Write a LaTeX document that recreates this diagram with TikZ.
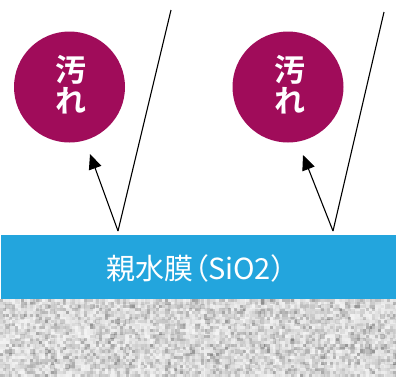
\documentclass[tikz,border=0pt]{standalone}
\usepackage{fontspec}
\newfontfamily\jp{Noto Sans CJK JP}[RawFeature=+palt]
\newfontfamily\jpb{Noto Sans CJK JP Bold}
\usetikzlibrary{arrows.meta}
\definecolor{dirt}{RGB}{160,12,90}
\definecolor{film}{RGB}{35,165,221}
\tikzset{
  dirtball/.style={circle, fill=dirt, draw=none, minimum size=111pt, inner sep=0pt},
  dirtlabel/.style={text=white, font=\jpb\fontsize{31pt}{31.5pt}\selectfont, align=center, inner sep=0pt},
  ray/.style={line width=1.1pt, black},
  reflect/.style={line width=1.1pt, black, -{Triangle[length=15pt,width=13pt]}},
  filmlabel/.style={text=white, font=\jp\fontsize{29pt}{30pt}\selectfont, inner sep=0pt, anchor=west}
}
\begin{document}
\begin{tikzpicture}[x=1pt,y=-1pt]
\useasboundingbox (0,0) rectangle (396,376);
\fill[white] (0,0) rectangle (396,376);
% substrate texture
\pgfmathsetseed{7}
\foreach \i in {0,...,79}{
  \foreach \j in {0,...,15}{
    \pgfmathsetmacro\g{5+45*rnd*rnd}
    \fill[black!\g!white] (5*\i,299+5*\j) rectangle ++(5.05,5.05);
  }
}
\foreach \i in {0,...,131}{
  \foreach \j in {0,...,25}{
    \pgfmathsetmacro\g{3+55*rnd*rnd}
    \fill[black!\g!white, opacity=0.55] (3*\i,299+3*\j) rectangle ++(3,3);
  }
}
% film
\fill[film] (1,235) rectangle (396,299);
\node[filmlabel] (film) at (106.5,268) {親水膜（SiO2）};
% dirt
\node[dirtball] (c1) at (69.5,87) {};
\node[dirtball] (c2) at (288,87) {};
\node[dirtlabel] (l1) at (71,84.5) {汚\\れ};
\node[dirtlabel] (l2) at (289.5,84.5) {汚\\れ};
% rays
\coordinate (p1) at (118,231);
\coordinate (p2) at (333,231);
\coordinate (t1) at (171,10);
\coordinate (t2) at (384,12);
\coordinate (a1) at (90,154);
\coordinate (a2) at (303,155);
\draw[ray] (t1) -- (p1);
\draw[ray] (t2) -- (p2);
\draw[reflect] (p1) -- (a1);
\draw[reflect] (p2) -- (a2);
\end{tikzpicture}
\end{document}
